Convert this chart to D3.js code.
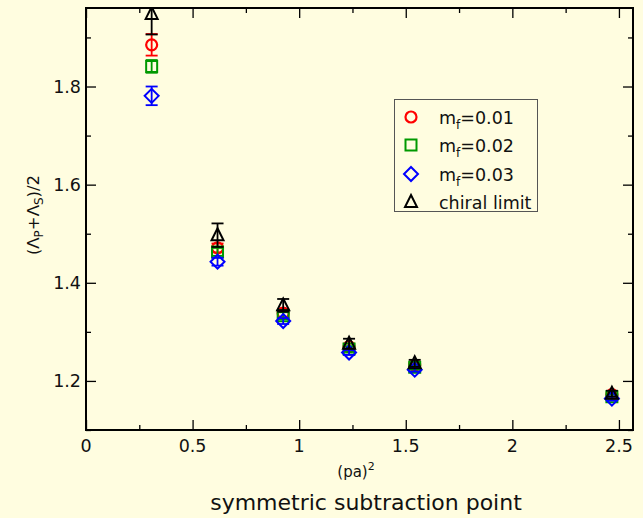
<!DOCTYPE html>
<html><head><meta charset="utf-8">
<script src="https://cdn.jsdelivr.net/npm/d3@7"></script>
<style>
html,body{margin:0;padding:0;background:#fffde0;}
svg{display:block;}
text{font-family:"DejaVu Sans",sans-serif;fill:#111;}
</style></head>
<body>
<svg id="chart" width="643" height="518"></svg>
<script>
// ---- data ----
const pa2 = [0.308, 0.617, 0.925, 1.234, 1.542, 2.467];
const mf001 = [1.885, 1.471, 1.338, 1.270, 1.232, 1.172];
const mf001Err = [0.022, 0.009, 0.008, 0.006, 0.005, 0.004];
const mf002 = [1.841, 1.463, 1.333, 1.265, 1.228, 1.168];
const mf002Err = [0.013, 0.008, 0.007, 0.006, 0.005, 0.004];
const mf003 = [1.781, 1.443, 1.322, 1.258, 1.223, 1.164];
const mf003Err = [0.019, 0.008, 0.006, 0.005, 0.004, 0.004];
const chiral = [1.948, 1.497, 1.354, 1.276, 1.236, 1.174];
const chiralErr = [0.042, 0.024, 0.013, 0.010, 0.007, 0.006];
const xTicks = [0, 0.5, 1, 1.5, 2, 2.5];
const xTickLabels = ["0", "0.5", "1", "1.5", "2", "2.5"];
const yTicks = [1.2, 1.4, 1.6, 1.8];
const yTickLabels = ["1.2", "1.4", "1.6", "1.8"];
const legendLabels = [["m","f","=0.01"],["m","f","=0.02"],["m","f","=0.03"],["chiral limit","",""]];

const series = [
  {name:"mf001", y:mf001, e:mf001Err, color:"#ff0000", shape:"circle"},
  {name:"mf002", y:mf002, e:mf002Err, color:"#009900", shape:"square"},
  {name:"mf003", y:mf003, e:mf003Err, color:"#0000ff", shape:"diamond"},
  {name:"chiral", y:chiral, e:chiralErr, color:"#000000", shape:"triangle"}
];

const L = 86, R = 633, T = 8, B = 430;
const x = d3.scaleLinear().domain([0, 2.566]).range([L, R]);
const y = d3.scaleLinear().domain([1.1, 1.96]).range([B, T]);

const svg = d3.select("#chart");
svg.append("rect").attr("width",643).attr("height",518).attr("fill","#fffde0");

svg.append("clipPath").attr("id","clip").append("rect")
  .attr("x",L).attr("y",T).attr("width",R-L).attr("height",B-T);

function addAxis(axisGen, tx, ty){
  const g = svg.append("g").attr("transform",`translate(${tx},${ty})`).call(axisGen);
  g.select(".domain").remove();
  g.selectAll("line").attr("stroke","#000").attr("stroke-width",1.3);
  return g;
}
const xMinor = [0.25, 0.75, 1.25, 1.75, 2.25];
const yMinor = [1.1, 1.3, 1.5, 1.7, 1.9];

addAxis(d3.axisBottom(x).tickValues(xTicks).tickSize(-10).tickFormat(""), 0, B);
addAxis(d3.axisBottom(x).tickValues(xMinor).tickSize(-5).tickFormat(""), 0, B);
addAxis(d3.axisTop(x).tickValues(xTicks).tickSize(-10).tickFormat(""), 0, T);
addAxis(d3.axisTop(x).tickValues(xMinor).tickSize(-5).tickFormat(""), 0, T);
addAxis(d3.axisLeft(y).tickValues(yTicks).tickSize(-10).tickFormat(""), L, 0);
addAxis(d3.axisLeft(y).tickValues(yMinor).tickSize(-5).tickFormat(""), L, 0);
addAxis(d3.axisRight(y).tickValues(yTicks).tickSize(-10).tickFormat(""), R, 0);
addAxis(d3.axisRight(y).tickValues(yMinor).tickSize(-5).tickFormat(""), R, 0);

svg.append("g").selectAll("text").data(xTicks).join("text")
  .attr("x", d=>x(d)).attr("y", B+22).attr("text-anchor","middle")
  .attr("font-size","17.5px").text((d,i)=>xTickLabels[i]);
svg.append("g").selectAll("text").data(yTicks).join("text")
  .attr("x", L-5).attr("y", d=>y(d)+6.5).attr("text-anchor","end")
  .attr("font-size","17.5px").text((d,i)=>yTickLabels[i]);

svg.append("rect").attr("x",L).attr("y",T).attr("width",R-L).attr("height",B-T)
  .attr("fill","none").attr("stroke","#000").attr("stroke-width",2);

function shapePath(shape){
  switch(shape){
    case "square": return "M-5.5,-5.5H5.5V5.5H-5.5Z";
    case "diamond": return "M0,-7L7,0L0,7L-7,0Z";
    case "triangle": return "M0,-7L6,5L-6,5Z";
  }
}
function drawMarker(g, shape, color){
  if(shape==="circle"){
    g.append("circle").attr("r",5.5).attr("fill","none").attr("stroke",color).attr("stroke-width",2.2);
  } else {
    g.append("path").attr("d",shapePath(shape)).attr("fill","none").attr("stroke",color).attr("stroke-width",2)
      .attr("stroke-linejoin","miter");
  }
}

const plot = svg.append("g").attr("clip-path","url(#clip)");
series.forEach(s=>{
  const g = plot.append("g");
  pa2.forEach((xv,i)=>{
    const cx = x(xv), yv = s.y[i], e = s.e[i];
    const y1 = y(yv+e), y2 = y(yv-e);
    g.append("line").attr("x1",cx).attr("x2",cx).attr("y1",y1).attr("y2",y2)
      .attr("stroke",s.color).attr("stroke-width",1.8);
    [y1,y2].forEach(yy=>g.append("line").attr("x1",cx-6).attr("x2",cx+6).attr("y1",yy).attr("y2",yy)
      .attr("stroke",s.color).attr("stroke-width",1.8));
    const m = g.append("g").attr("transform",`translate(${cx},${y(yv)})`);
    drawMarker(m, s.shape, s.color);
  });
});

const lg = svg.append("g");
lg.append("rect").attr("x",394.5).attr("y",99.5).attr("width",143).attr("height",112)
  .attr("fill","#fffde0").attr("stroke","#555").attr("stroke-width",1);
const rowsY = [117, 145, 174, 202];
series.forEach((s,i)=>{
  const m = lg.append("g").attr("transform",`translate(411,${rowsY[i]})`);
  drawMarker(m, s.shape, s.color);
  const t = lg.append("text").attr("x",439).attr("y",rowsY[i]+6.5).attr("font-size","17.5px");
  const [a,sub,b] = legendLabels[i];
  t.append("tspan").text(a);
  if(sub){
    t.append("tspan").attr("dy",5).attr("font-size","12px").text(sub);
    t.append("tspan").attr("dy",-5).text(b);
  }
});

const xl = svg.append("text").attr("x",356).attr("y",477).attr("text-anchor","middle").attr("font-size","15px");
xl.append("tspan").text("(pa)");
xl.append("tspan").attr("dy",-7).attr("font-size","11px").text("2");
svg.append("text").attr("x",366).attr("y",510).attr("text-anchor","middle").attr("font-size","22px")
  .text("symmetric subtraction point");

const yl = svg.append("text").attr("transform","translate(39,215) rotate(-90)")
  .attr("text-anchor","middle").attr("font-size","16.5px");
yl.append("tspan").text("(Λ");
yl.append("tspan").attr("dy",4).attr("font-size","12px").text("P");
yl.append("tspan").attr("dy",-4).text("+Λ");
yl.append("tspan").attr("dy",4).attr("font-size","12px").text("S");
yl.append("tspan").attr("dy",-4).text(")/2");
</script>
</body></html>
